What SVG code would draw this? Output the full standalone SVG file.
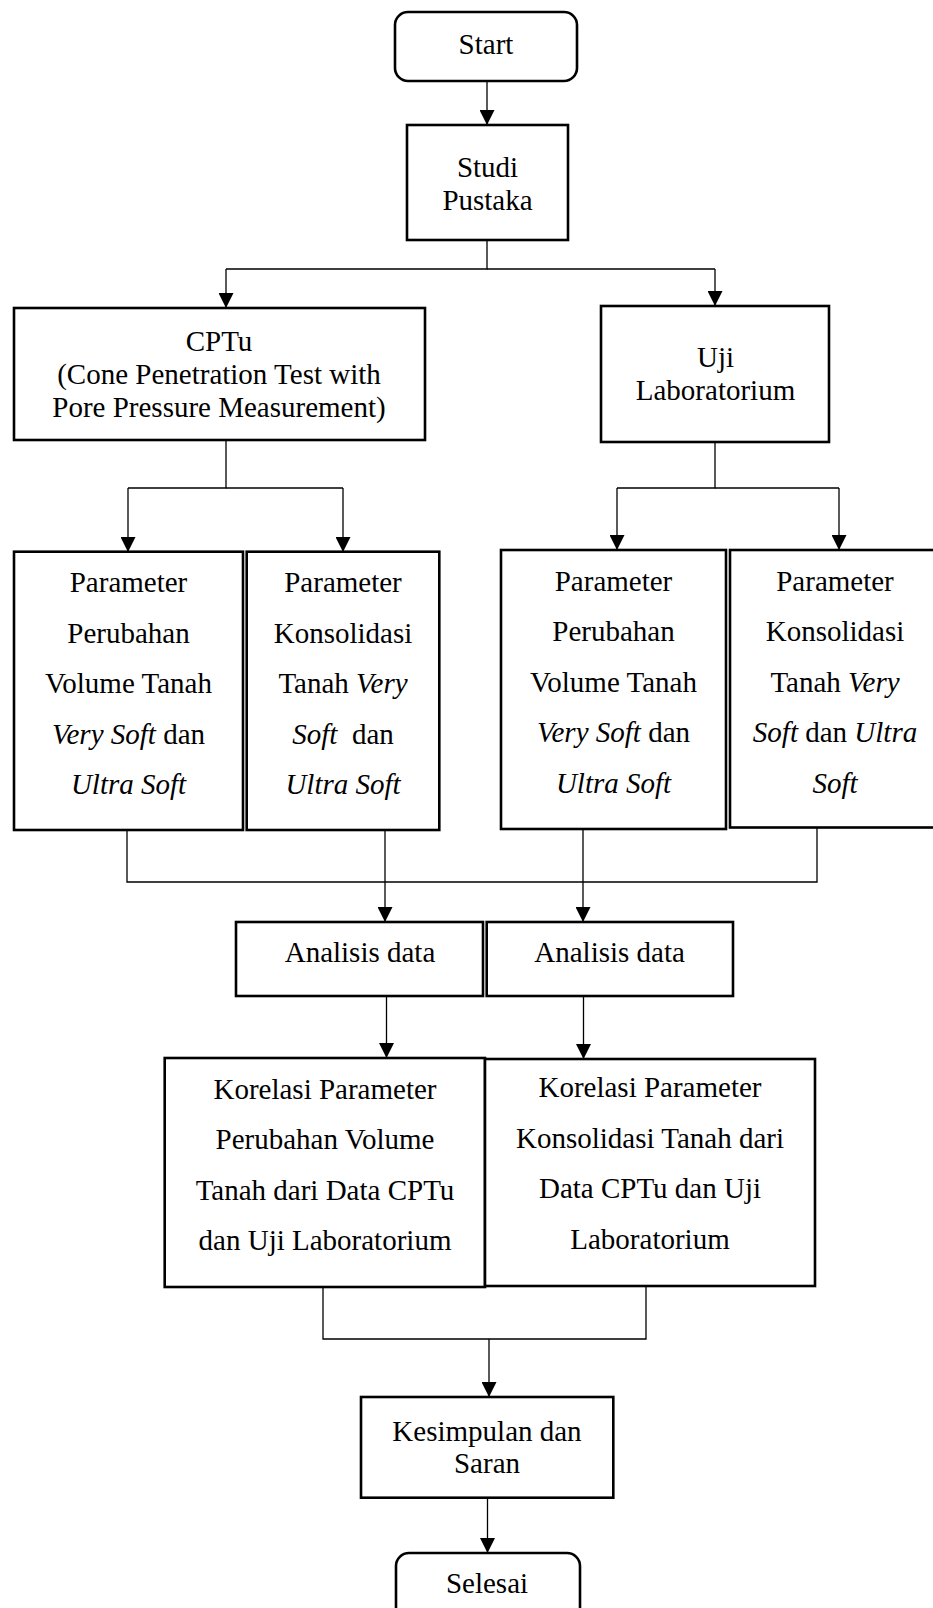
<svg xmlns="http://www.w3.org/2000/svg" width="933" height="1608" viewBox="0 0 933 1608">
<style>
.box{fill:#fff;stroke:#000;stroke-width:2.6}
.t{font-family:"Liberation Serif","Times New Roman",serif;font-size:29px;fill:#000;text-anchor:middle}
.i{font-style:italic}
.c{fill:none;stroke:#000;stroke-width:1.3}
</style>
<defs>
<marker id="ah" markerUnits="userSpaceOnUse" markerWidth="15" markerHeight="15" refX="15" refY="7.5" orient="auto" viewBox="0 0 15 15">
<path d="M0,0 L15,7.5 L0,15 z" fill="#000"/>
</marker>
</defs>
<g id="connectors">
<line class="c" x1="487" y1="81" x2="487" y2="125" marker-end="url(#ah)"/>
<polyline class="c" points="487,240 487,269 226,269"/>
<line class="c" x1="226" y1="269" x2="226" y2="308" marker-end="url(#ah)"/>
<line class="c" x1="487" y1="269" x2="715" y2="269"/>
<line class="c" x1="715" y1="269" x2="715" y2="306" marker-end="url(#ah)"/>
<polyline class="c" points="226,440 226,488 128,488"/>
<line class="c" x1="128" y1="488" x2="128" y2="552" marker-end="url(#ah)"/>
<line class="c" x1="226" y1="488" x2="343" y2="488"/>
<line class="c" x1="343" y1="488" x2="343" y2="552" marker-end="url(#ah)"/>
<polyline class="c" points="715,442 715,488 617,488"/>
<line class="c" x1="617" y1="488" x2="617" y2="550" marker-end="url(#ah)"/>
<line class="c" x1="715" y1="488" x2="839" y2="488"/>
<line class="c" x1="839" y1="488" x2="839" y2="550" marker-end="url(#ah)"/>
<polyline class="c" points="127,830 127,882 817,882 817,828"/>
<line class="c" x1="385" y1="830" x2="385" y2="922" marker-end="url(#ah)"/>
<line class="c" x1="583" y1="829" x2="583" y2="922" marker-end="url(#ah)"/>
<line class="c" x1="386.5" y1="996" x2="386.5" y2="1058" marker-end="url(#ah)"/>
<line class="c" x1="583.5" y1="996" x2="583.5" y2="1059" marker-end="url(#ah)"/>
<polyline class="c" points="323,1287 323,1339 646,1339 646,1286"/>
<line class="c" x1="489" y1="1339" x2="489" y2="1397" marker-end="url(#ah)"/>
<line class="c" x1="487.5" y1="1498" x2="487.5" y2="1553" marker-end="url(#ah)"/>
</g>
<g id="start">
<rect class="box" x="395" y="12" width="182" height="69" rx="13"/>
<text class="t" x="486" y="54">Start</text>
</g>
<g id="studi">
<rect class="box" x="407" y="125" width="161" height="115"/>
<text class="t" x="487.5" y="177">Studi</text>
<text class="t" x="487.5" y="210">Pustaka</text>
</g>
<g id="cptu">
<rect class="box" x="14" y="308" width="411" height="132"/>
<text class="t" x="219" y="351">CPTu</text>
<text class="t" x="219" y="384">(Cone Penetration Test with</text>
<text class="t" x="219" y="417">Pore Pressure Measurement)</text>
</g>
<g id="uji">
<rect class="box" x="601" y="306" width="228" height="136"/>
<text class="t" x="715.5" y="367">Uji</text>
<text class="t" x="715.5" y="400">Laboratorium</text>
</g>
<g id="param-vol-cptu">
<rect class="box" x="14" y="551.7" width="229" height="278.3"/>
<text class="t" x="128.5" y="591.5">Parameter</text>
<text class="t" x="128.5" y="642.5">Perubahan</text>
<text class="t" x="128.5" y="693">Volume Tanah</text>
<text class="t" x="128.5" y="743.5"><tspan class="i">Very Soft</tspan> dan</text>
<text class="t i" x="128.5" y="794">Ultra Soft</text>
</g>
<g id="param-kons-cptu">
<rect class="box" x="246.7" y="551.7" width="192.6" height="278.3"/>
<text class="t" x="343" y="591.5">Parameter</text>
<text class="t" x="343" y="642.5">Konsolidasi</text>
<text class="t" x="343" y="693">Tanah <tspan class="i">Very</tspan></text>
<text class="t" x="343" y="743.5" xml:space="preserve"><tspan class="i">Soft</tspan>  dan</text>
<text class="t i" x="343" y="794">Ultra Soft</text>
</g>
<g id="param-vol-lab">
<rect class="box" x="501" y="550" width="225" height="279"/>
<text class="t" x="613.5" y="590.5">Parameter</text>
<text class="t" x="613.5" y="641">Perubahan</text>
<text class="t" x="613.5" y="691.5">Volume Tanah</text>
<text class="t" x="613.5" y="742"><tspan class="i">Very Soft</tspan> dan</text>
<text class="t i" x="613.5" y="792.5">Ultra Soft</text>
</g>
<g id="param-kons-lab">
<rect class="box" x="730" y="550" width="206" height="277.5"/>
<text class="t" x="835" y="590.5">Parameter</text>
<text class="t" x="835" y="641">Konsolidasi</text>
<text class="t" x="835" y="691.5">Tanah <tspan class="i">Very</tspan></text>
<text class="t" x="835" y="742"><tspan class="i">Soft</tspan> dan <tspan class="i">Ultra</tspan></text>
<text class="t i" x="835" y="792.5">Soft</text>
</g>
<g id="analisis-1">
<rect class="box" x="236" y="922" width="247" height="74"/>
<text class="t" x="360" y="962">Analisis data</text>
</g>
<g id="analisis-2">
<rect class="box" x="486.7" y="922" width="246.3" height="74"/>
<text class="t" x="609.6" y="962">Analisis data</text>
</g>
<g id="korelasi-vol">
<rect class="box" x="164.7" y="1058" width="320.3" height="229"/>
<text class="t" x="325" y="1098.5">Korelasi Parameter</text>
<text class="t" x="325" y="1149">Perubahan Volume</text>
<text class="t" x="325" y="1199.5">Tanah dari Data CPTu</text>
<text class="t" x="325" y="1250">dan Uji Laboratorium</text>
</g>
<g id="korelasi-kons">
<rect class="box" x="485" y="1059" width="330" height="227"/>
<text class="t" x="650" y="1097">Korelasi Parameter</text>
<text class="t" x="650" y="1147.5">Konsolidasi Tanah dari</text>
<text class="t" x="650" y="1198">Data CPTu dan Uji</text>
<text class="t" x="650" y="1248.5">Laboratorium</text>
</g>
<g id="kesimpulan">
<rect class="box" x="361" y="1397" width="252.3" height="100.7"/>
<text class="t" x="487" y="1441">Kesimpulan dan</text>
<text class="t" x="487" y="1473">Saran</text>
</g>
<g id="selesai">
<rect class="box" x="396" y="1553" width="184" height="70" rx="13"/>
<text class="t" x="487" y="1593">Selesai</text>
</g>
</svg>
